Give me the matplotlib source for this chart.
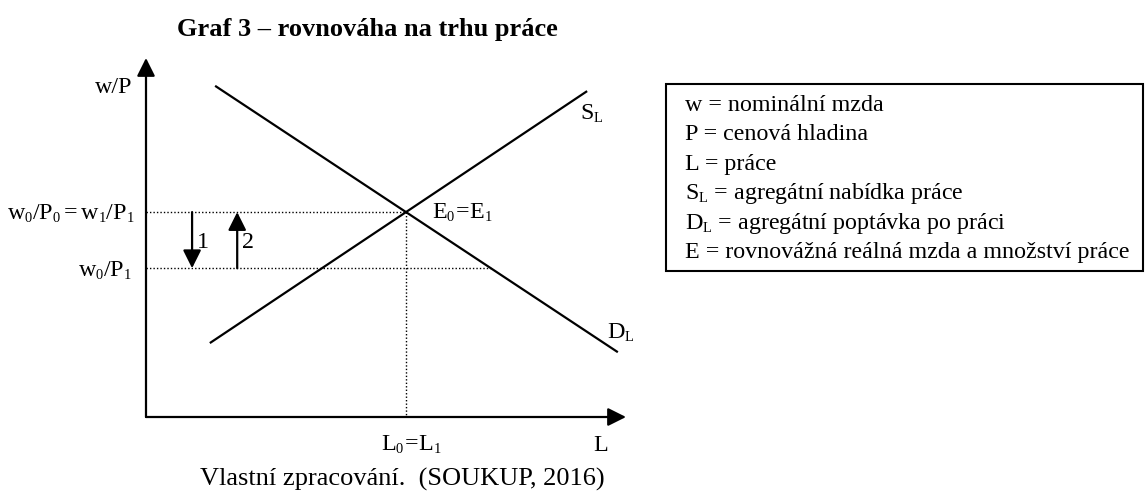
import numpy as np
import matplotlib.pyplot as plt
import matplotlib._mathtext as mathtext
from matplotlib.patches import Rectangle

plt.rcParams['font.family'] = ['Liberation Serif', 'DejaVu Serif']
plt.rcParams['mathtext.fontset'] = 'custom'
plt.rcParams['mathtext.rm'] = 'Liberation Serif'
plt.rcParams['mathtext.it'] = 'Liberation Serif:italic'
plt.rcParams['mathtext.bf'] = 'Liberation Serif:bold'
# smaller subscripts, closer to the word processor look
mathtext.SHRINK_FACTOR = 0.6

title = 'Graf 3 – rovnováha na trhu práce'
source = 'Vlastní zpracování.  (SOUKUP, 2016)'

# end points of the curves: labour L (x) and real wage w/P (y)
demand_L = np.array([1.44, 9.83])
demand_w = np.array([6.90, 1.35])
supply_L = np.array([1.33, 9.19])
supply_w = np.array([1.54, 6.79])
w_low = 3.10                 # w0/P1
shift_L = [0.96, 1.90]       # positions of arrows 1 and 2
shift_labels = ['1', '2']
L_max, w_max = 10.0, 7.48

legend_lines = [
    'w = nominální mzda',
    'P = cenová hladina',
    'L = práce',
    r'$\mathrm{S_L}$ = agregátní nabídka práce',
    r'$\mathrm{D_L}$ = agregátní poptávka po práci',
    'E = rovnovážná reálná mzda a množství práce',
]

W, H = 1146, 503
fs = 17.3

# equilibrium from the two lines
sd = (demand_w[1] - demand_w[0]) / (demand_L[1] - demand_L[0])
ss = (supply_w[1] - supply_w[0]) / (supply_L[1] - supply_L[0])
L_eq = (supply_w[0] - demand_w[0] - ss * supply_L[0] + sd * demand_L[0]) / (sd - ss)
w_eq = demand_w[0] + sd * (L_eq - demand_L[0])
L_low = demand_L[0] + (w_low - demand_w[0]) / sd

fig = plt.figure(figsize=(W / 100, H / 100), dpi=100)
ax = fig.add_axes([146 / W, (H - 417) / H, 480 / W, 359 / H])
ax.set_xlim(0, L_max)
ax.set_ylim(0, w_max)
ax.axis('off')

arrow = dict(arrowstyle='-|>,head_length=1.1,head_width=0.55',
             mutation_scale=10, color='black', lw=1.6,
             shrinkA=0, shrinkB=0)

# axes with arrows
ax.annotate('', xy=(0, w_max), xytext=(0, 0), arrowprops=arrow,
            annotation_clip=False)
ax.annotate('', xy=(L_max, 0), xytext=(0, 0), arrowprops=arrow,
            annotation_clip=False)

# curves
ax.plot(demand_L, demand_w, color='black', lw=1.6, clip_on=False,
        solid_capstyle='butt')
ax.plot(supply_L, supply_w, color='black', lw=1.6, clip_on=False,
        solid_capstyle='butt')

dots = dict(color='black', lw=1.0, linestyle=(0, (1, 1.5)), clip_on=False)
ax.plot([0, L_eq], [w_eq, w_eq], **dots)
ax.plot([L_eq, L_eq], [w_eq, 0], **dots)
ax.plot([0, L_low], [w_low, w_low], **dots)

# shift arrows
ax.annotate('', xy=(shift_L[0], w_low), xytext=(shift_L[0], w_eq),
            arrowprops=arrow)
ax.annotate('', xy=(shift_L[1], w_eq), xytext=(shift_L[1], w_low),
            arrowprops=arrow)
for x, lab in zip(shift_L, shift_labels):
    ax.annotate(lab, xy=(x, (w_eq + w_low) / 2), xytext=(5, -8),
                textcoords='offset pixels', ha='left', va='baseline',
                fontsize=fs)

# labels
lab = dict(textcoords='offset pixels', va='baseline', fontsize=fs,
           annotation_clip=False)
ax.annotate('w/P', xy=(0, w_max), xytext=(-14, -35), ha='right', **lab)
ax.annotate(r'$\mathrm{w_0/P_0 = w_1/P_1}$', xy=(0, w_eq), xytext=(-11, -8),
            ha='right', **lab)
ax.annotate(r'$\mathrm{w_0/P_1}$', xy=(0, w_low), xytext=(-14, -8),
            ha='right', **lab)
ax.annotate(r'$\mathrm{E_0\!=\!E_1}$', xy=(L_eq, w_eq), xytext=(26, -7),
            ha='left', **lab)
ax.annotate(r'$\mathrm{S_L}$', xy=(supply_L[1], supply_w[1]), xytext=(-7, -29),
            ha='left', **lab)
ax.annotate(r'$\mathrm{D_L}$', xy=(demand_L[1], demand_w[1]), xytext=(-11, 14),
            ha='left', **lab)
ax.annotate(r'$\mathrm{L_0\!=\!L_1}$', xy=(L_eq, 0), xytext=(5, -34),
            ha='center', **lab)
ax.annotate('L', xy=(L_max, 0), xytext=(-25, -34), ha='center', **lab)

# title and source
fig.text(367 / W, 1 - 36 / H, title, ha='center', va='baseline',
         fontsize=19, fontweight='bold')
fig.text(402 / W, 1 - 486 / H, source, ha='center', va='baseline', fontsize=19)

# legend box
fig.patches.append(Rectangle((666 / W, 1 - 271 / H), (1143 - 666) / W,
                             (271 - 84) / H, transform=fig.transFigure,
                             fill=False, edgecolor='black', lw=1.5))
for i, line in enumerate(legend_lines):
    fig.text(685 / W, 1 - (111 + 29.4 * i) / H, line, ha='left',
             va='baseline', fontsize=fs)

fig.savefig('out.png', dpi=100)
